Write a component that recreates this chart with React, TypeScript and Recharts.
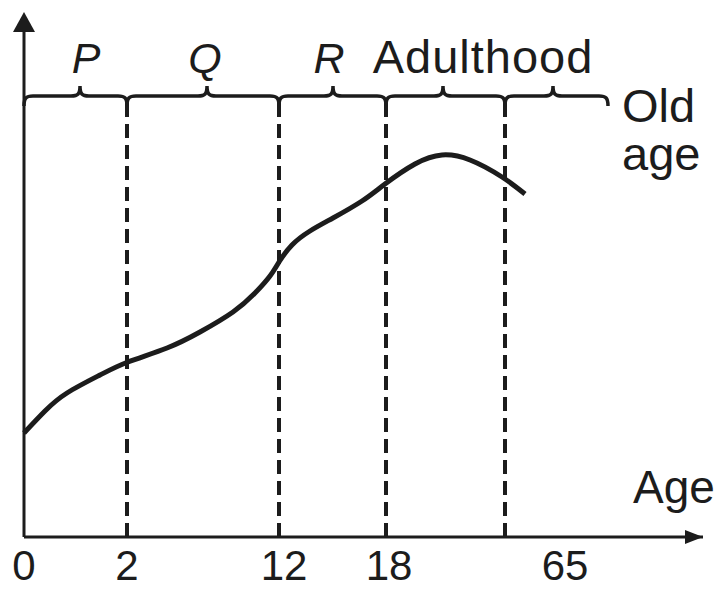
import { ComposedChart, Line, XAxis, YAxis, ReferenceLine, ReferenceDot } from 'recharts';

// curve: position along the (non-linear) age axis vs growth
const curvePos = [0, 21, 43, 76, 104, 143, 176, 209, 231, 246, 255, 268, 286, 309, 338, 361, 391, 418, 446, 478, 501];
const curveGrowth = [104, 126, 144, 162, 175, 189, 205, 225, 244, 261, 275, 292, 306, 319, 336, 353, 373, 382, 377, 360, 343];

const tickPos = [0, 103, 260, 365, 541];
const tickLabels = ['0', '2', '12', '18', '65'];

const dividerPos = [103, 255, 362, 481];
const dashTop = 437;

const braceStart = [0, 103, 255, 362, 481];
const braceEnd = [103, 255, 362, 481, 584];
const braceTip = [56, 183, 309, 419, 529];
const braceLevel = 441;

const stageLabels = ['P', 'Q', 'R', 'Adulthood'];
const stageLabelPos = [62, 181, 305, 459];
const stageItalic = [true, true, true, false];
const stageLabelLevel = 464;

const oldAgeLines = ['Old', 'age'];
const oldAgeLevels = [415, 367];
const oldAgePos = 598;

const axisName = 'Age';

const data = curvePos.map((pos, i) => ({ pos, growth: curveGrowth[i] }));

const INK = '#1c1c1c';
const FONT = '"Liberation Sans", Arial, Helvetica, sans-serif';

const textShape = (label: string, size: number, italic = false, anchor = 'middle', spacing = 0) => (p: any) => (
  <text x={p.cx} y={p.cy} fill={INK} fontSize={size} fontFamily={FONT} fontStyle={italic ? 'italic' : 'normal'} textAnchor={anchor} letterSpacing={spacing}>
    {label}
  </text>
);

// curly brace between x1 and x2 (pixels), with the upward point placed at the stage's tip position
const braceShape = (i: number) => (p: any) => {
  const x1 = p.x1, x2 = p.x2, y = p.y1;
  const tipX = x1 + ((braceTip[i] - braceStart[i]) / (braceEnd[i] - braceStart[i])) * (x2 - x1);
  const h = 10, r = 9;
  const d = `M${x1},${y + h} C${x1},${y + 2} ${x1 + 2},${y} ${x1 + r},${y} L${tipX - r},${y} C${tipX - 2},${y} ${tipX},${y - 2} ${tipX},${y - h} C${tipX},${y - 2} ${tipX + 2},${y} ${tipX + r},${y} L${x2 - r},${y} C${x2 - 2},${y} ${x2},${y + 2} ${x2},${y + h}`;
  return <path d={d} fill="none" stroke={INK} strokeWidth={3.5} />;
};

const Tick = (p: any) => {
  const i = tickPos.indexOf(p.payload.value);
  return (
    <text x={p.x} y={p.y + 43} fill={INK} fontSize={42} fontFamily={FONT} textAnchor="middle">
      {tickLabels[i]}
    </text>
  );
};

export default function App() {
  return (
    <div style={{ position: 'absolute', left: 0, top: 0, background: '#fff' }}>
      <ComposedChart width={724} height={590} data={data} margin={{ top: 12, right: 21, bottom: 0, left: 24 }}>
        <XAxis
          dataKey="pos"
          type="number"
          domain={[0, 679]}
          ticks={tickPos}
          tick={<Tick />}
          tickLine={false}
          tickSize={0}
          tickMargin={0}
          height={53}
          interval={0}
          axisLine={{ stroke: INK, strokeWidth: 3 }}
        />
        <YAxis type="number" domain={[0, 525]} hide />
        <ReferenceLine segment={[{ x: 0, y: 0 }, { x: 0, y: 515 }]} stroke={INK} strokeWidth={3} />
        {dividerPos.map((x) => (
          <ReferenceLine
            key={'d' + x}
            segment={[{ x, y: 0 }, { x, y: dashTop }]}
            stroke={INK}
            strokeWidth={4}
            strokeDasharray="14 7"
          />
        ))}
        {braceStart.map((s, i) => (
          <ReferenceLine
            key={'b' + i}
            segment={[{ x: s, y: braceLevel }, { x: braceEnd[i], y: braceLevel }]}
            shape={braceShape(i) as any}
            stroke={INK}
            ifOverflow="visible"
          />
        ))}
        {stageLabels.map((s, i) => (
          <ReferenceDot
            key={'l' + i}
            x={stageLabelPos[i]}
            y={stageLabelLevel}
            r={0}
            ifOverflow="visible"
            shape={textShape(s, s.length > 1 ? 47 : 43, stageItalic[i], 'middle', s.length > 1 ? 1 : 0)}
          />
        ))}
        {oldAgeLines.map((s, i) => (
          <ReferenceDot key={'o' + i} x={oldAgePos} y={oldAgeLevels[i]} r={0} ifOverflow="visible" shape={textShape(s, 47, false, 'start')} />
        ))}
        <ReferenceDot x={609} y={34} r={0} ifOverflow="visible" shape={textShape(axisName, 46, false, 'start')} />
        <ReferenceDot
          x={679}
          y={0}
          r={0}
          ifOverflow="visible"
          shape={(p: any) => <path d={`M${p.cx},${p.cy} L${p.cx - 18},${p.cy - 7} L${p.cx - 18},${p.cy + 7} Z`} fill={INK} />}
        />
        <ReferenceDot
          x={0}
          y={525}
          r={0}
          ifOverflow="visible"
          shape={(p: any) => <path d={`M${p.cx},${p.cy} L${p.cx - 11},${p.cy + 20} L${p.cx + 11},${p.cy + 20} Z`} fill={INK} />}
        />
        <Line type="natural" dataKey="growth" stroke={INK} strokeWidth={5} dot={false} activeDot={false} isAnimationActive={false} />
      </ComposedChart>
    </div>
  );
}
